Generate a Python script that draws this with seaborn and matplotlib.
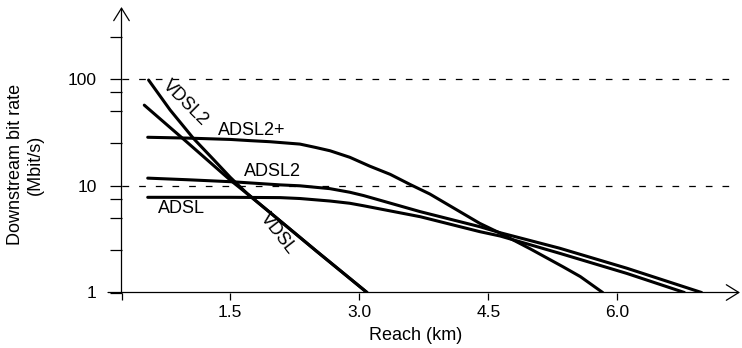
import matplotlib
matplotlib.use("Agg")
import matplotlib.pyplot as plt
import seaborn as sns
import pandas as pd

# Downstream bit rate (Mbit/s) versus loop reach (km) for each DSL standard
reach_vdsl2 = [0.55, 0.80, 1.07, 1.30, 1.50, 1.70, 2.00, 2.50, 3.09]
rate_vdsl2 = [98, 51.4, 27.9, 17.8, 12.0, 8.4, 5.3, 2.45, 1.0]

reach_vdsl = [0.50, 1.00, 1.50, 1.70, 2.00, 2.50, 3.09]
rate_vdsl = [57, 25.5, 11.3, 8.4, 5.3, 2.45, 1.0]

reach_adsl2p = [0.54, 1.00, 1.50, 1.73, 1.96, 2.31, 2.49, 2.66, 2.89, 3.12,
                3.36, 3.59, 3.82, 4.40, 4.64, 4.99, 5.37, 5.57, 5.83]
rate_adsl2p = [28.5, 28.0, 27.2, 26.5, 25.9, 24.6, 22.9, 21.3, 18.5, 15.3,
               12.8, 10.3, 8.38, 4.45, 3.59, 2.56, 1.74, 1.41, 1.0]

reach_adsl2 = [0.54, 1.00, 1.53, 2.08, 2.31, 2.66, 2.89, 3.05, 3.71, 4.40,
               4.64, 5.33, 6.11, 6.98]
rate_adsl2 = [11.8, 11.4, 10.9, 10.2, 10.0, 9.4, 8.7, 8.1, 5.72, 4.14,
              3.63, 2.6, 1.69, 1.0]

reach_adsl = [0.54, 1.00, 1.50, 2.08, 2.31, 2.66, 2.89, 3.05, 3.71, 4.40,
              4.64, 5.33, 6.11, 6.78]
rate_adsl = [7.8, 7.8, 7.8, 7.75, 7.6, 7.2, 6.86, 6.5, 5.13, 3.72,
             3.38, 2.33, 1.51, 1.0]

x_ticks = [1.5, 3.0, 4.5, 6.0]
x_tick_labels = ["1.5", "3.0", "4.5", "6.0"]
y_ticks = [1, 10, 100]
y_tick_labels = ["1", "10", "100"]
y_minor_ticks = [2.5, 5, 7.5, 25, 50, 75, 250]
ref_levels = [10, 100]

series = {
    "VDSL2": (reach_vdsl2, rate_vdsl2),
    "VDSL": (reach_vdsl, rate_vdsl),
    "ADSL2+": (reach_adsl2p, rate_adsl2p),
    "ADSL2": (reach_adsl2, rate_adsl2),
    "ADSL": (reach_adsl, rate_adsl),
}
df = pd.concat(
    [pd.DataFrame({"standard": k, "reach": r, "rate": v}) for k, (r, v) in series.items()],
    ignore_index=True,
)

sns.set_style("white")
plt.rcParams["font.family"] = ["Liberation Sans", "DejaVu Sans"]
plt.rcParams["lines.scale_dashes"] = False
for key in ("text.color", "axes.labelcolor", "xtick.color", "ytick.color"):
    plt.rcParams[key] = "black"

W, H = 742, 348
left_px, right_px, bottom_px, top_px = 121.5, 740, 292.5, 7
fig = plt.figure(figsize=(W / 100, H / 100), dpi=100)
ax = fig.add_axes([left_px / W, (H - bottom_px) / H,
                   (right_px - left_px) / W, (bottom_px - top_px) / H])

sns.lineplot(data=df, x="reach", y="rate", hue="standard",
             palette=["black"] * len(series), estimator=None, sort=False,
             legend=False, lw=2.2, ax=ax)

ax.set_yscale("log")
x_lo, x_hi = 0.235, 7.427
ax.set_xlim(x_lo, x_hi)
ax.set_ylim(1, 474)

for lvl in ref_levels:
    ax.axhline(lvl, xmin=0.0, xmax=0.992, color="black", lw=0.9,
               dashes=(4.8, 7.2), zorder=1)

for s in ax.spines.values():
    s.set_visible(False)

ax.set_xticks([x_lo] + x_ticks)
ax.set_xticklabels([""] + x_tick_labels)
ax.set_yticks(y_ticks)
ax.set_yticklabels(y_tick_labels)
ax.set_yticks(y_minor_ticks, minor=True)
ax.yaxis.set_minor_formatter(matplotlib.ticker.NullFormatter())
ax.tick_params(axis="x", which="both", direction="out", length=4.8, width=0.9,
               color="black", labelsize=12.5, pad=4, bottom=True)
ax.tick_params(axis="y", which="both", direction="out", length=8.3, width=0.9,
               color="black", labelsize=12.5, pad=9.5, left=True)
ax.tick_params(axis="x", which="minor", bottom=False)

# axis lines with open arrowheads
arrow = dict(arrowstyle="->, head_length=0.45, head_width=0.28", lw=0.9,
             color="black", shrinkA=0, shrinkB=0, mutation_scale=20)
ax.annotate("", xy=(0, 1), xytext=(0, 0), xycoords="axes fraction",
            textcoords="axes fraction", arrowprops=arrow, annotation_clip=False)
ax.annotate("", xy=(1, 0), xytext=(-0.0218, 0), xycoords="axes fraction",
            textcoords="axes fraction", arrowprops=arrow, annotation_clip=False)

ax.set_xlabel("Reach (km)", fontsize=13, va="center")
ax.xaxis.set_label_coords(0.4757, -0.149)
ax.set_ylabel("Downstream bit rate\n(Mbit/s)", fontsize=13, va="center",
              ha="center", multialignment="center")
ax.yaxis.set_label_coords(-0.155, 0.447)

labels = [
    ("VDSL2", 0.973, 59.7, -45),
    ("ADSL2+", 1.749, 33.3, 0),
    ("ADSL2", 1.991, 13.5, 0),
    ("ADSL", 0.927, 6.19, 0),
    ("VDSL", 2.055, 3.53, -52),
]
for text, x, y, rot in labels:
    ax.text(x, y, text, fontsize=13, ha="center", va="center",
            rotation=rot, rotation_mode="anchor")

fig.savefig("out.png", dpi=100)
